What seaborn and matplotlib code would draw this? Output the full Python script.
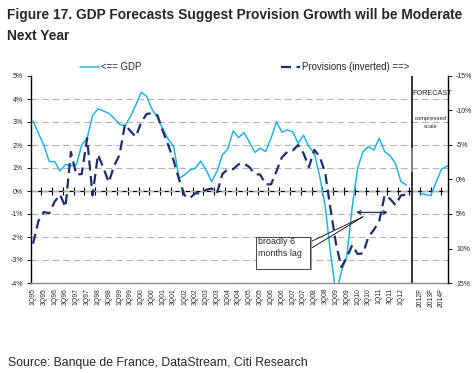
import matplotlib
matplotlib.use("Agg")
import matplotlib.pyplot as plt
import seaborn as sns
import pandas as pd
from matplotlib.patches import Rectangle

# GDP growth y/y (%), quarterly 1Q95..2Q12, left axis
gdp = [3.04, 2.51, 2.0, 1.28, 1.28, 0.87, 1.16, 1.1, 1.13, 2.0,
       2.29, 3.28, 3.57, 3.48, 3.38, 3.16, 2.9, 2.84, 3.23, 3.74,
       4.29, 4.12, 3.55, 3.2, 2.7, 2.25, 1.93, 0.55, 0.7, 0.91,
       0.99, 1.3, 0.91, 0.41, 0.84, 1.57, 1.83, 2.61, 2.32, 2.54,
       2.12, 1.68, 1.86, 1.71, 2.29, 3.01, 2.56, 2.65, 2.58, 2.07,
       2.43, 1.93, 1.64, 0.62, -0.65, -2.7, -4.5, -3.5, -2.85, -0.7,
       0.99, 1.71, 1.93, 1.78, 2.29, 1.71, 1.54, 1.2, 0.41, 0.26]

# provisions growth (%), right axis (inverted)
prov = [9.3, 6.0, 4.7, 4.9, 3.2, 2.2, 4.0, -4.0, -0.7, -0.8,
        -6.0, 2.3, -3.6, -1.7, 0.4, -2.0, -3.6, -8.0, -7.0, -6.2,
        -8.3, -9.5, -9.6, -9.3, -7.0, -5.0, -2.7, 0.0, 2.3, 2.7,
        2.0, 2.0, 1.5, 1.3, 2.0, -0.8, -1.5, -1.5, -2.2, -2.3,
        -1.8, -0.8, -0.7, 0.7, 0.7, -1.2, -3.2, -4.0, -4.2, -5.0,
        -3.8, -1.8, -4.3, -3.3, -1.0, 4.3, 9.3, 12.7, 11.3, 9.5,
        10.8, 10.7, 8.3, 7.3, 6.0, 2.3, 2.8, 3.7, 2.3, 2.2]

# annual GDP forecasts (compressed scale)
fc_years = ["2012F", "2013F", "2014F", "2015F"]
fc_gdp = [-0.1, -0.2, 0.95, 1.2]

quarters = [f"{q}Q{y % 100:02d}" for y in range(1995, 2013) for q in (1, 2, 3, 4)][:len(gdp)]

hist = pd.DataFrame({"pos": range(len(gdp)), "gdp": gdp, "prov": prov, "quarter": quarters})
fc = pd.DataFrame({"pos": [71.5 + 2 * i for i in range(len(fc_years))],
                   "gdp": fc_gdp, "year": fc_years})

GDP_C = "#20B4EA"
PROV_C = "#1B2F6B"

sns.set_style("white")
plt.rcParams["font.family"] = ["Liberation Sans", "DejaVu Sans"]

fig = plt.figure(figsize=(4.77, 3.73), dpi=100)
W, H = 477, 373
ax = fig.add_axes([30.7 / W, (H - 283) / H, (448.5 - 30.7) / W, 207 / H])

sns.lineplot(data=hist, x="pos", y="gdp", ax=ax, color=GDP_C, lw=1.1, legend=False)
sns.lineplot(data=fc, x="pos", y="gdp", ax=ax, color=GDP_C, lw=1.1, legend=False)

ax.set_xlim(-0.43, 76.8)
ax.set_ylim(-4, 5)
ax.set_yticks(range(-4, 6))
ax.set_yticklabels([f"{v}%" for v in range(-4, 6)])
ax.yaxis.grid(True, color="#b4b4b4", lw=0.8, linestyle=(0, (6, 3.5)))
ax.yaxis.get_gridlines()[-1].set_visible(False)
ax.xaxis.grid(False)
ax.set_xlabel("")
ax.set_ylabel("")

# category labels every second quarter + forecast years
lab_pos = list(hist["pos"][::2]) + list(fc["pos"][:3])
lab_txt = list(hist["quarter"][::2]) + list(fc["year"][:3])
ax.set_xticks(lab_pos)
ax.set_xticklabels(lab_txt, rotation=90, fontsize=4.9)
ax.tick_params(axis="x", length=0, pad=3.6)
ax.tick_params(axis="y", direction="out", length=3, width=0.8, labelsize=5, pad=2.5, left=True)

for s in ["top", "right"]:
    ax.spines[s].set_visible(False)
ax.spines["left"].set_color("black")
ax.spines["left"].set_linewidth(1.0)
ax.spines["bottom"].set_color("#8c8c8c")
ax.spines["bottom"].set_linewidth(1.0)

# zero line with crossing ticks
zero = ax.secondary_xaxis(4 / 9)
zero.set_xticks([1.5 + 2 * k for k in range(38)])
zero.set_xticklabels([])
zero.tick_params(direction="inout", length=6, width=0.8, color="black")
zero.spines["bottom"].set_linewidth(0.9)
zero.spines["bottom"].set_color("black")

ax2 = ax.twinx()
sns.lineplot(data=hist, x="pos", y="prov", ax=ax2, color=PROV_C, lw=1.6,
             linestyle=(0, (4.5, 2.5)), legend=False)
ax2.set_ylim(15, -15)
ax2.set_yticks(range(-15, 16, 5))
ax2.set_yticklabels([f"{v}%" for v in range(-15, 16, 5)])
ax2.tick_params(axis="y", direction="out", length=3, width=0.8, labelsize=5, pad=2.5, right=True)
ax2.set_ylabel("")
for s in ["top", "left", "bottom"]:
    ax2.spines[s].set_visible(False)
ax2.spines["right"].set_color("black")
ax2.spines["right"].set_linewidth(1.0)
ax2.grid(False)

# forecast divider
ax.axvline(70, color="#111111", lw=1.2)
ax.vlines(70, 0.83, 1.87, color="#8a8a8a", lw=1.3)
ax.text(70.2, 4.22, "FORECAST", fontsize=5.2, va="center", ha="left")
ax.text(73.6, 3.17, "compressed", fontsize=4.2, va="center", ha="center")
ax.text(73.6, 2.8, "scale", fontsize=4.2, va="center", ha="center")

# lag annotation
ax.add_patch(Rectangle((41.5, -3.44), 10.0, 1.39, facecolor="#9a9a9a", edgecolor="none", zorder=4))
ax.add_patch(Rectangle((41.2, -3.39), 10.0, 1.39, facecolor="white", edgecolor="#444444", lw=0.7, zorder=5))
ax.text(41.6, -2.45, "broadly 6\nmonths lag", fontsize=6.4, va="center", ha="left",
        linespacing=1.35, zorder=6)
for yy in (-2.22, -2.52):
    ax.annotate("", xy=(61.0, -1.12), xytext=(51.2, yy),
                arrowprops=dict(arrowstyle="-", lw=0.6, color="black", shrinkA=0, shrinkB=0))
ax.annotate("", xy=(65.6, -0.93), xytext=(59.7, -0.93),
            arrowprops=dict(arrowstyle="<->,head_length=0.25,head_width=0.12", lw=0.9,
                            color=PROV_C, shrinkA=0, shrinkB=0))

# legend
handles = [ax.lines[0], ax2.lines[0]]
fig.legend(handles, ["<== GDP", "Provisions (inverted) ==>"], loc="center",
           bbox_to_anchor=(244.5 / W, (H - 67) / H), ncol=2, frameon=False,
           fontsize=6.9, handlelength=2.0, handletextpad=0.25, columnspacing=14.5)

# title and source
fig.text(7.5 / W, (H - 18.7) / H, "Figure 17. GDP Forecasts Suggest Provision Growth will be Moderate",
         fontsize=9.9, fontweight="bold", va="baseline", ha="left")
fig.text(7.5 / W, (H - 39.7) / H, "Next Year", fontsize=9.9, fontweight="bold",
         va="baseline", ha="left")
fig.text(8 / W, (H - 366) / H, "Source: Banque de France, DataStream, Citi Research",
         fontsize=8.8, va="baseline", ha="left")

fig.savefig("out.png", dpi=100)
